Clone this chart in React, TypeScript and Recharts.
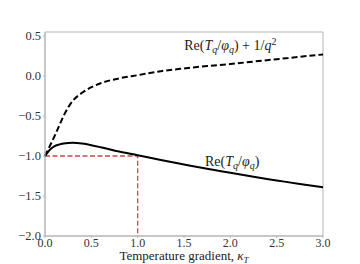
import React from 'react';
import {
  LineChart,
  Line,
  XAxis,
  YAxis,
  ReferenceArea,
  ReferenceDot,
} from 'recharts';

const kappa = [0, 0.05, 0.1, 0.15, 0.2, 0.3, 0.4, 0.5, 0.6, 0.8, 1.0, 1.25, 1.5, 1.75, 2.0, 2.25, 2.5, 2.75, 3.0];
const shiftedRe = [-1, -0.88, -0.76, -0.63, -0.5, -0.31, -0.21, -0.14, -0.09, -0.03, 0.01, 0.06, 0.095, 0.125, 0.15, 0.18, 0.21, 0.24, 0.27];
const plainRe = [-1, -0.925, -0.88, -0.858, -0.845, -0.835, -0.845, -0.865, -0.89, -0.945, -0.99, -1.05, -1.105, -1.16, -1.21, -1.26, -1.305, -1.35, -1.39];

const guideX = [0, 1, 1];
const guideY = [-1, -1, -2];

const xTicks = [0, 0.5, 1, 1.5, 2, 2.5, 3];
const yTicks = [-2, -1.5, -1, -0.5, 0, 0.5];

const data = kappa.map((k, i) => ({ x: k, shifted: shiftedRe[i], plain: plainRe[i] }));
const guide = guideX.map((x, i) => ({ x, y: guideY[i] }));

const serif = '"Liberation Serif", "DejaVu Serif", serif';
const spine = '#b5b5b5';

const fmt = (v: number) => (v < 0 ? '\u2212' + Math.abs(v).toFixed(1) : v.toFixed(1));

const ShiftedLabel = (props: any) => {
  const { cx, cy } = props;
  return (
    <text x={cx} y={cy} textAnchor="middle" fontFamily={serif} fontSize={14} fill="#222">
      Re(<tspan fontStyle="italic">T</tspan>
      <tspan fontSize={10} fontStyle="italic" dy={3}>q</tspan>
      <tspan dy={-3}>/</tspan>
      <tspan fontStyle="italic">φ</tspan>
      <tspan fontSize={10} fontStyle="italic" dy={3}>q</tspan>
      <tspan dy={-3}>) + 1/</tspan>
      <tspan fontStyle="italic">q</tspan>
      <tspan fontSize={10} dy={-5}>2</tspan>
    </text>
  );
};

const PlainLabel = (props: any) => {
  const { cx, cy } = props;
  return (
    <text x={cx} y={cy} textAnchor="middle" fontFamily={serif} fontSize={14} fill="#222">
      Re(<tspan fontStyle="italic">T</tspan>
      <tspan fontSize={10} fontStyle="italic" dy={3}>q</tspan>
      <tspan dy={-3}>/</tspan>
      <tspan fontStyle="italic">φ</tspan>
      <tspan fontSize={10} fontStyle="italic" dy={3}>q</tspan>
      <tspan dy={-3}>)</tspan>
    </text>
  );
};

const XTitle = (props: any) => {
  const { viewBox } = props;
  const cx = viewBox.x + viewBox.width / 2;
  return (
    <text x={cx} y={260} textAnchor="middle" fontFamily={serif} fontSize={13} fill="#222">
      Temperature gradient, <tspan fontStyle="italic">κ</tspan>
      <tspan fontSize={9} fontStyle="italic" dy={2.5}>T</tspan>
    </text>
  );
};

export default function App() {
  return (
    <div style={{ position: 'absolute', left: 0, top: 0, background: '#fff' }}>
      <LineChart width={360} height={264} data={data} margin={{ top: 32, right: 37, left: 5, bottom: 8 }}>
        <ReferenceArea x1={0} x2={3} y1={-2} y2={0.55} fill="none" stroke={spine} strokeWidth={1} />
        <XAxis
          dataKey="x"
          type="number"
          domain={[0, 3]}
          ticks={xTicks}
          tickFormatter={fmt}
          height={20}
          stroke={spine}
          tickSize={2}
          tickMargin={0}
          tick={{ fill: '#333', fontFamily: serif, fontSize: 12 }}
          label={{ content: XTitle }}
        />
        <YAxis
          type="number"
          domain={[-2, 0.55]}
          ticks={yTicks}
          tickFormatter={fmt}
          width={40}
          stroke={spine}
          tickSize={2}
          tickMargin={2}
          tick={{ fill: '#333', fontFamily: serif, fontSize: 12.5 }}
          allowDataOverflow
        />
        <Line
          data={guide}
          dataKey="y"
          type="linear"
          stroke="#d04545"
          strokeWidth={1.3}
          strokeDasharray="5 2.5"
          dot={false}
          isAnimationActive={false}
        />
        <Line
          dataKey="shifted"
          type="monotone"
          stroke="#000"
          strokeWidth={2}
          strokeDasharray="6 3"
          dot={false}
          isAnimationActive={false}
        />
        <Line
          dataKey="plain"
          type="monotone"
          stroke="#000"
          strokeWidth={2}
          dot={false}
          isAnimationActive={false}
        />
        <ReferenceDot x={2.0} y={0.325} r={0} shape={ShiftedLabel} />
        <ReferenceDot x={2.02} y={-1.125} r={0} shape={PlainLabel} />
      </LineChart>
    </div>
  );
}
